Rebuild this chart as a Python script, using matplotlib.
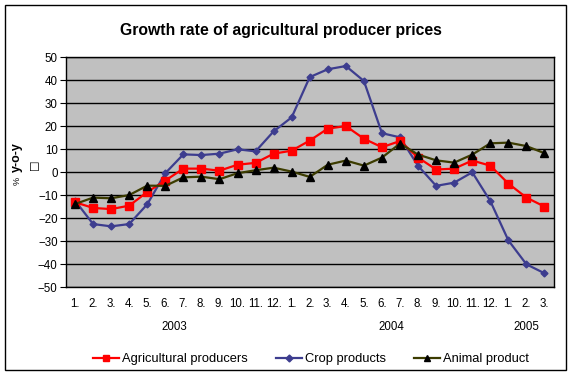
import matplotlib
matplotlib.use("Agg")
import matplotlib.pyplot as plt
from matplotlib.lines import Line2D
from matplotlib.patches import Rectangle

plt.rcParams['font.family'] = ['Liberation Sans', 'DejaVu Sans']

months = ["1.", "2.", "3.", "4.", "5.", "6.", "7.", "8.", "9.", "10.", "11.", "12.",
          "1.", "2.", "3.", "4.", "5.", "6.", "7.", "8.", "9.", "10.", "11.", "12.",
          "1.", "2.", "3."]
years = ["2003", "2004", "2005"]
year_month_counts = [12, 12, 3]

agricultural = [-13, -15.5, -16, -14.5, -8.6, -3.6, 1.6, 1.6, 0.7, 3.3, 4.1, 8.1, 9.4,
                13.8, 19, 20.1, 14.6, 10.9, 13.6, 6.4, 1.2, 1.6, 5.1, 2.9, -4.9, -11, -14.9]
crop = [-12.3, -22.5, -23.5, -22.5, -13.9, -0.4, 7.8, 7.5, 8.1, 10, 9.1, 17.8, 23.9,
        41.4, 44.8, 46.2, 39.7, 17, 15.2, 2.8, -5.9, -4.5, 0, -12.5, -29.6, -40, -43.9]
animal = [-13.8, -11, -11.3, -9.9, -5.8, -5.9, -2.2, -1.9, -3, -0.4, 0.9, 2, 0.3,
          -2, 3.3, 5.1, 2.9, 6.4, 12.5, 7.7, 5.2, 4.2, 7.7, 12.6, 12.9, 11.4, 8.3]

W, H = 572, 377
fig = plt.figure(figsize=(W / 100, H / 100), dpi=100)

def fx(px):
    return px / W

def fy(py):
    return 1 - py / H

# outer frame
fig.patches.append(Rectangle((fx(5), fy(370)), fx(566) - fx(5), fy(5) - fy(370),
                             transform=fig.transFigure, fill=False, edgecolor='black', lw=1.0))

ax = fig.add_axes([fx(66), fy(287.3), fx(553.5) - fx(66), fy(57.3) - fy(287.3)])
ax.set_facecolor('#C0C0C0')
n = len(months)
x = list(range(n))
ax.set_xlim(-0.5, n - 0.5)
ax.set_ylim(-50, 50)
ax.set_yticks(range(-50, 51, 10))
ax.yaxis.grid(True, color='black', lw=1.0)
ax.set_axisbelow(True)
for s in ax.spines.values():
    s.set_color('black')
    s.set_linewidth(1.0)

ax.plot(x, agricultural, color='#FF0000', lw=1.6, marker='s', ms=5.5, mfc='#FF0000', mec='#FF0000', zorder=4)
ax.plot(x, crop, color='#3d3d8f', lw=1.6, marker='D', ms=3.5, mfc='#3d3d8f', mec='#3d3d8f', zorder=3)
ax.plot(x, animal, color='#3c3c00', lw=1.6, marker='^', ms=6, mfc='black', mec='black', zorder=5)

ax.set_xticks(x)
ax.set_xticklabels(months, fontsize=8.3)
ax.tick_params(axis='x', length=0, pad=8)
ax.tick_params(axis='y', labelsize=8.3, length=4, direction='out', pad=2)

# year labels
start = 0
for yr, cnt in zip(years, year_month_counts):
    center = start + (cnt - 1) / 2
    ax.text(center, -0.172, yr, transform=ax.get_xaxis_transform(), ha='center', va='center', fontsize=8.3)
    start += cnt

fig.text(fx(281), fy(30), "Growth rate of agricultural producer prices",
         ha='center', va='center', fontsize=11.3, fontweight='bold')

# y label
fig.text(fx(17), fy(181), "%", rotation=90, ha='center', va='center', fontsize=6.5)
fig.text(fx(17), fy(157), "y-o-y", rotation=90, ha='center', va='center', fontsize=9, fontweight='bold')
fig.text(fx(33), fy(165), "\u25a1", rotation=90, ha='center', va='center', fontsize=8, family=['DejaVu Sans'])

handles = [
    Line2D([], [], color='#FF0000', lw=1.6, marker='s', ms=5, mfc='#FF0000', mec='#FF0000'),
    Line2D([], [], color='#3d3d8f', lw=1.6, marker='D', ms=3.5, mfc='#3d3d8f', mec='#3d3d8f'),
    Line2D([], [], color='#3c3c00', lw=1.6, marker='^', ms=5, mfc='black', mec='black'),
]
fig.legend(handles, ["Agricultural producers", "Crop products", "Animal product"],
           loc='center', bbox_to_anchor=(fx(311), fy(359)), ncol=3, frameon=False,
           fontsize=9.3, handlelength=2.0, handletextpad=0.25, columnspacing=2.2)

fig.savefig("out.png", dpi=100)
